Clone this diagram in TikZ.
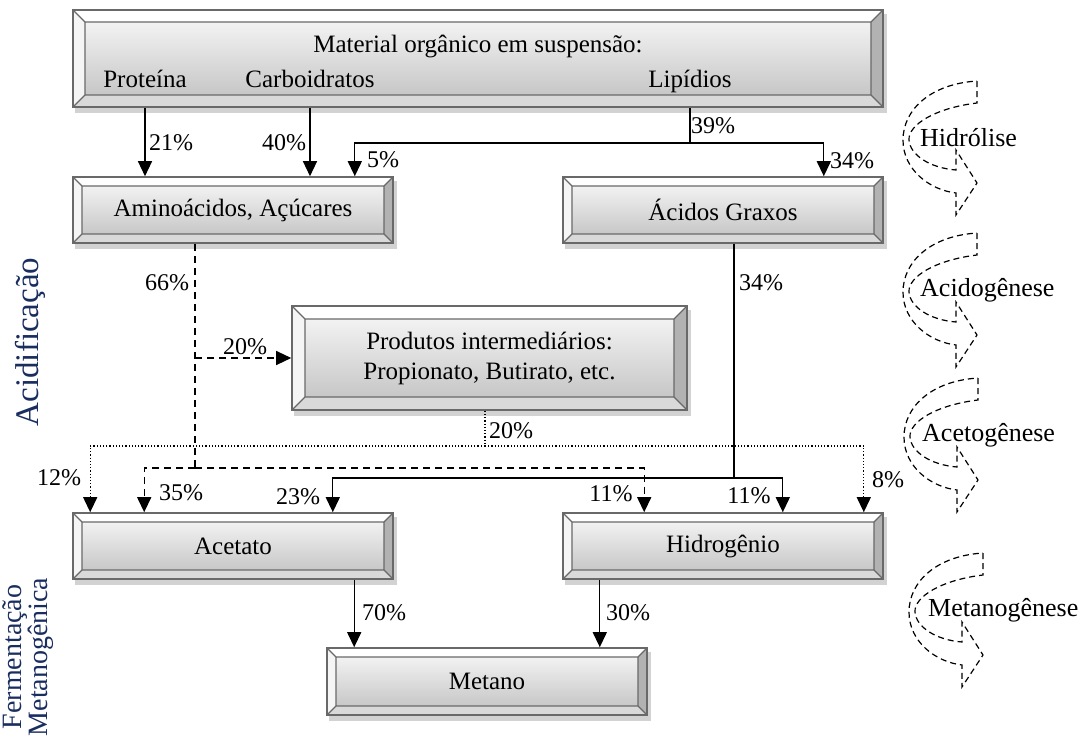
\documentclass[tikz,border=0pt]{standalone}
\usepackage{fontspec}
\setmainfont{Liberation Serif}
\usetikzlibrary{arrows.meta}
\pgfdeclarelayer{background}
\pgfsetlayers{background,main}
\definecolor{framegray}{RGB}{105,105,105}
\definecolor{sidenavy}{RGB}{25,45,95}
\newcommand{\bevelfaces}[1]{%
  \path (path picture bounding box.north west) coordinate (nw)
        (path picture bounding box.north east) coordinate (ne)
        (path picture bounding box.south west) coordinate (sw)
        (path picture bounding box.south east) coordinate (se)
        ([xshift=#1pt,yshift=-#1pt]nw) coordinate (inw)
        ([xshift=-#1pt,yshift=-#1pt]ne) coordinate (ine)
        ([xshift=#1pt,yshift=#1pt]sw) coordinate (isw)
        ([xshift=-#1pt,yshift=#1pt]se) coordinate (ise);
  \fill[white] (nw) -- (ne) -- (ine) -- (inw) -- cycle;
  \fill[gray!8] (nw) -- (inw) -- (isw) -- (sw) -- cycle;
  \fill[gray!60] (ne) -- (se) -- (ise) -- (ine) -- cycle;
  \fill[gray!30] (sw) -- (isw) -- (ise) -- (se) -- cycle;
  \draw[framegray, line width=1.2pt] (inw) rectangle (ise)
        (nw) -- (inw) (ne) -- (ine) (sw) -- (isw) (se) -- (ise);
}
\tikzset{bevelbox/.style={draw=framegray, line width=1.6pt, top color=gray!4, bottom color=gray!50,
    minimum width=320pt, minimum height=66pt, inner sep=0pt, align=center,
    font=\fontsize{25}{30}\selectfont, path picture={\bevelfaces{#1}}},
  bevelbox/.default=9}
\tikzstyle{boxtext}=[font=\fontsize{25}{30}\selectfont, inner sep=0pt]
\tikzstyle{pct}=[font=\fontsize{24}{28}\selectfont, inner sep=0pt]
\tikzstyle{link}=[draw, line width=1.3pt]
\tikzstyle{flow}=[link, -{Triangle[length=15pt,width=14pt]}]
\tikzstyle{dashlink}=[link, dash pattern=on 7pt off 5pt]
\tikzstyle{dashflow}=[flow, dash pattern=on 7pt off 5pt]
\tikzstyle{dotlink}=[link, line width=1.2pt, dash pattern=on 1.2pt off 2pt]
\tikzstyle{dotflow}=[flow, line width=1.2pt, dash pattern=on 1.2pt off 2pt]
\tikzstyle{phasearrow}=[draw, line width=1.2pt, dash pattern=on 6pt off 4pt]
\tikzstyle{phase}=[font=\fontsize{26}{30}\selectfont, anchor=west, inner sep=0pt]
\tikzstyle{shadowfill}=[fill=gray!35]
\tikzstyle{sidelabel}=[text=sidenavy, rotate=90, align=center, inner sep=0pt]

\begin{document}
\begin{tikzpicture}[x=1pt, y=-1pt]
  \useasboundingbox (0,0) rectangle (1085,742);

  % boxes
  \node[bevelbox=12, minimum width=810pt, minimum height=97pt] (mat) at (478,58.5) {};
  \node[bevelbox] (amino) at (233,210) {Aminoácidos, Açúcares};
  \node[bevelbox] (graxos) at (723,210) {Ácidos Graxos};
  \node[bevelbox=13, minimum width=395pt, minimum height=104pt] (interm) at (489.5,358)
    {Produtos intermediários:\\Propionato, Butirato, etc.};
  \node[bevelbox] (acet) at (233,546) {Acetato};
  \node[bevelbox] (hidro) at (723,546) {Hidrogênio};
  \node[bevelbox, minimum height=67pt] (metano) at (487,681.5) {Metano};

  % texts of the first box
  \node[boxtext, anchor=base] (tmat) at (478,52) {Material orgânico em suspensão:};
  \node[boxtext, anchor=base] (tprot) at (145,87) {Proteína};
  \node[boxtext, anchor=base] (tcarb) at (310,87) {Carboidratos};
  \node[boxtext, anchor=base] (tlip) at (690,87) {Lipídios};

  % side labels
  \node[sidelabel, font=\fontsize{33}{36}\selectfont] (acidif) at (30,342) {Acidificação};
  \node[sidelabel, font=\fontsize{28}{22}\selectfont] (fermet) at (28,657) {Fermentação\\Metanogênica};

  % percentages
  \foreach \pos/\name/\val in {{(171,143)/p21/21}, {(284,143)/p40/40}, {(713,126)/p39/39},
      {(383,160)/p5/5}, {(852,161)/p34a/34}, {(167,283)/p66/66}, {(761,283)/p34b/34},
      {(245,347)/p20a/20}, {(511,431)/p20b/20}, {(59,478)/p12/12}, {(181,493)/p35/35},
      {(298,497)/p23/23}, {(611,494)/p11a/11}, {(749,496)/p11b/11}, {(888,480)/p8/8},
      {(384,613)/p70/70}, {(628,613)/p30/30}}
    \node[pct] (\name) at \pos {\val\%};

  % junctions
  \coordinate (lipj) at (690,143);
  \coordinate (aminoj) at (195,468);
  \coordinate (intj) at (485,446);
  \coordinate (graxj) at (734,478);
  \coordinate (m70) at ([xshift=28pt]metano.north west);
  \coordinate (m30) at ([xshift=-48pt]metano.north east);

  % hydrolysis
  \path[flow] (tprot |- mat.south) -- (tprot |- amino.north);
  \path[flow] (tcarb |- mat.south) -- (tcarb |- amino.north);
  \path[link] (lipj |- mat.south) -- (lipj);
  \path[flow] (lipj) -| ([xshift=-39pt]amino.north east);
  \path[flow] (lipj) -| ([xshift=-60pt]graxos.north east);

  % acidogenesis and acetogenesis
  \path[dashlink] (aminoj |- amino.south) -- (aminoj);
  \path[dashflow] (aminoj |- interm.west) -- (interm.west);
  \path[dashflow] (aminoj) -| ([xshift=72pt]acet.north west);
  \path[dashflow] (aminoj) -| ([xshift=82pt]hidro.north west);
  \path[dotlink] (intj |- interm.south) -- (intj);
  \path[dotflow] (intj) -| ([xshift=18pt]acet.north west);
  \path[dotflow] (intj) -| ([xshift=-20pt]hidro.north east);
  \path[link] (graxj |- graxos.south) -- (graxj);
  \path[flow] (graxj) -| ([xshift=-61pt]acet.north east);
  \path[flow] (graxj) -| ([xshift=-101pt]hidro.north east);

  % methanogenesis
  \path[flow] (m70 |- acet.south) -- (m70);
  \path[flow] (m30 |- hidro.south) -- (m30);

  % phase arrows on the right
  \foreach \x/\y/\name/\txt/\tx in {977/81/lhid/Hidrólise/920, 977/233/lacid/Acidogênese/920,
      978/378/lacet/Acetogênese/922, 983/553/lmeta/Metanogênese/928} {
    \draw[phasearrow, shift={(\x,\y)}] (0,0) -- (0,22)
      .. controls (-42,27) and (-69,44) .. (-68,59)
      .. controls (-67,74) and (-47,87) .. (-21,89)
      -- (-21,69) -- (0,102) -- (-21,134) -- (-21,112)
      .. controls (-47,109) and (-74,89) .. (-74,59)
      .. controls (-74,29) and (-47,3) .. (0,0) -- cycle;
    \node[phase] (\name) at (\tx,\y+57) {\txt};
  }

  \begin{pgfonlayer}{background}
    \foreach \name in {mat, amino, graxos, interm, acet, hidro, metano}
      \path[shadowfill] ([xshift=3pt,yshift=-5pt]\name.south west) rectangle ([xshift=3pt,yshift=-5pt]\name.north east);
  \end{pgfonlayer}
\end{tikzpicture}
\end{document}
